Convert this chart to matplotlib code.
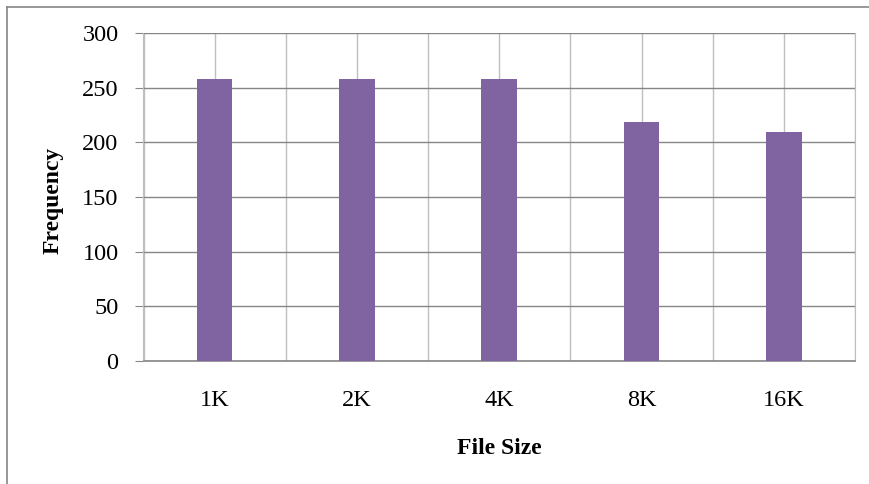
import matplotlib
matplotlib.use("Agg")
import matplotlib.pyplot as plt
from matplotlib.lines import Line2D

categories = ["1K", "2K", "4K", "8K", "16K"]
frequency = [258, 258, 258, 219, 209]
y_ticks = [0, 50, 100, 150, 200, 250, 300]

plt.rcParams["font.family"] = ["Liberation Serif", "DejaVu Serif"]

fig = plt.figure(figsize=(8.7, 4.84), dpi=100)
ax = fig.add_axes([143.5 / 870, 1 - 361 / 484, (855 - 143.5) / 870, (361 - 33) / 484])

x = list(range(len(categories)))
ax.bar(x, frequency, width=0.25, color="#8064A2", zorder=3)

ax.set_xlim(-0.5, len(categories) - 0.5)
ax.set_ylim(0, 300)
ax.set_yticks(y_ticks)
ax.set_yticklabels([str(v) for v in y_ticks], fontsize=17.5)

# category centres carry labels; boundaries carry gridlines too
ax.set_xticks(x)
ax.set_xticklabels(categories, fontsize=17.5)
ax.set_xticks([i - 0.5 for i in range(len(categories) + 1)], minor=True)
ax.tick_params(axis="x", which="both", length=0, pad=21)
ax.tick_params(axis="y", length=6, color="#868686", pad=12)

ax.grid(axis="y", color="#868686", linewidth=1.0, zorder=0)
ax.grid(axis="x", which="both", color="#bfbfbf", linewidth=1.0, zorder=0)
ax.set_axisbelow(True)

for side in ("left", "right", "top"):
    ax.spines[side].set_color("#bfbfbf")
ax.spines["top"].set_visible(False)
ax.spines["bottom"].set_color("#868686")
ax.spines["bottom"].set_linewidth(1.2)

fig.text(499 / 870, 1 - 448 / 484, "File Size", ha="center", va="center",
         fontsize=17, fontweight="bold")
fig.text(53 / 870, 1 - 200 / 484, "Frequency", ha="center", va="center",
         rotation=90, fontsize=17, fontweight="bold")

# outer chart frame (top and left edges)
fig.add_artist(Line2D([7 / 870, 1.0], [1 - 7 / 484, 1 - 7 / 484],
                      transform=fig.transFigure, color="#868686", linewidth=1.2))
fig.add_artist(Line2D([7 / 870, 7 / 870], [0.0, 1 - 7 / 484],
                      transform=fig.transFigure, color="#868686", linewidth=1.2))

fig.savefig("out.png", dpi=100)
